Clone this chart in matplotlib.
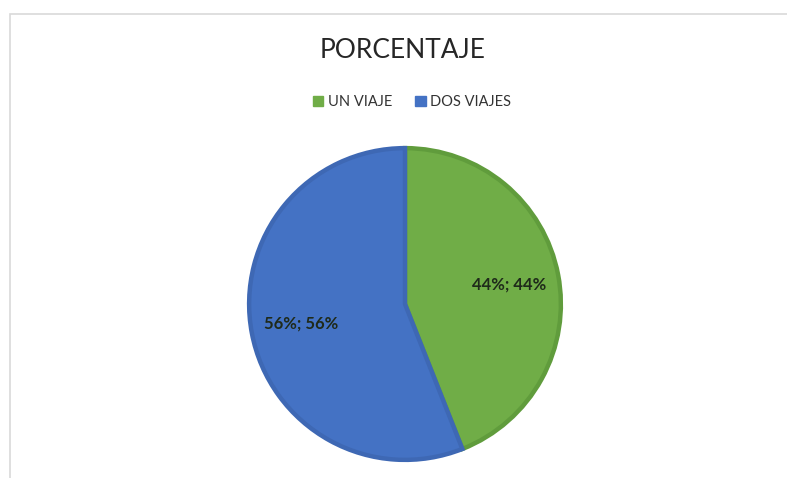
import matplotlib.pyplot as plt
from matplotlib.patches import Patch, Rectangle

# datos del grafico
categorias = ['UN VIAJE', 'DOS VIAJES']
porcentajes = [44, 56]
colores = ['#70AD47', '#4472C4']
bordes = ['#609C3C', '#3E68B4']

plt.rcParams['font.family'] = ['Lato', 'DejaVu Sans']

W, H = 787, 478
fig = plt.figure(figsize=(W / 100, H / 100), dpi=100)

# marco gris del area del grafico
fig.patches.append(Rectangle((10 / W, -0.05), 1.0, 1 - 14 / H + 0.05, transform=fig.transFigure,
                             fill=False, edgecolor='#D9D9D9', linewidth=1.2))

# eje del pastel (centro ~ (405,304), radio ~159 px)
cx, cy, r = 405, 304, 159
ax = fig.add_axes([(cx - r) / W, (H - cy - r) / H, 2 * r / W, 2 * r / H])
wedges, textos, autotextos = ax.pie(porcentajes, colors=colores, startangle=90, counterclock=False,
                                    autopct=lambda p: '%.0f%%; %.0f%%' % (p, p), pctdistance=0.68,
                                    wedgeprops=dict(linewidth=3.2),
                                    textprops=dict(fontsize=12, color='#1F2A1A', fontweight='bold'))
for w, b in zip(wedges, bordes):
    w.set_edgecolor(b)
ax.set_xlim(-1.02, 1.02)
ax.set_ylim(-1.02, 1.02)
ax.set_aspect('equal')
ax.axis('off')

fig.text(403 / W, 1 - 50 / H, 'PORCENTAJE', ha='center', va='center', fontsize=19,
         color='#262626')

handles = [Patch(facecolor=c, edgecolor=c) for c in colores]
fig.legend(handles, categorias, loc='center', bbox_to_anchor=(412 / W, 1 - 102 / H), ncol=2,
           frameon=False, handlelength=0.7, handleheight=0.7, handletextpad=0.3,
           columnspacing=1.6, labelcolor='#333333', prop=dict(size=10.5))

fig.savefig('out.png', dpi=100, facecolor='white')
